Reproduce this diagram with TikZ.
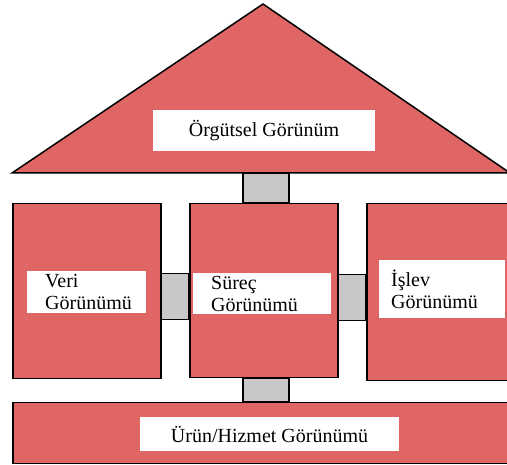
\documentclass[tikz,border=0pt]{standalone}
\usepackage{fontspec}
\setmainfont{Liberation Serif}
\usetikzlibrary{calc}
\definecolor{housered}{RGB}{224,102,102}
\definecolor{linkgray}{RGB}{200,200,200}
\begin{document}
\begin{tikzpicture}[x=1pt,y=-1pt,
  part/.style={draw=black,line width=1.5pt,fill=housered,rectangle,inner sep=0pt,anchor=north west},
  link/.style={draw=black,line width=1.5pt,fill=linkgray},
  tag/.style={fill=white,inner sep=0pt,font=\fontsize{20}{22}\selectfont},
  tagl/.style={fill=white,inner sep=0pt,font=\fontsize{20}{22}\selectfont,align=left,anchor=west}]
\useasboundingbox (0,0) rectangle (507,465);
% roof
\path[draw=black,line width=1.5pt,fill=housered,line join=miter]
  (12,173) -- (263,4) -- (510,173) -- cycle;
\coordinate (roofbase) at (265,173);
\node[tag,minimum width=222pt,minimum height=41pt] (orgut) at (264,130.5) {Örgütsel Görünüm};
% boxes
\node[part,minimum width=148pt,minimum height=175pt] (veri) at (12,203) {};
\node[part,minimum width=148pt,minimum height=174pt] (surec) at (189,203) {};
\node[part,minimum width=144pt,minimum height=177pt] (islev) at (366,203) {};
\node[part,minimum width=498pt,minimum height=61pt] (urun) at (12,402) {};
% connectors
\draw[link] ($(surec.north)+(-21,0)$) rectangle ($(roofbase -| surec.north)+(25,0)$);
\draw[link] ($(veri.east)+(0,-17.5)$) rectangle ($(surec.west)+(0,29)$);
\draw[link] ($(surec.east)+(0,-16)$) rectangle ($(islev.west)+(0,28.5)$);
\draw[link] ($(surec.south)+(-21,0)$) rectangle ($(urun.north -| surec.south)+(25,0)$);
\node[part,minimum width=148pt,minimum height=175pt] at (veri.north west) {};
\node[part,minimum width=148pt,minimum height=174pt] at (surec.north west) {};
\node[part,minimum width=144pt,minimum height=177pt] at (islev.north west) {};
\node[part,minimum width=498pt,minimum height=61pt] at (urun.north west) {};
% labels
\node[tagl,text width=119pt,minimum height=42pt] (veril) at (27,292) {\hspace*{18pt}Veri\\\hspace*{18pt}Görünümü};
\node[tagl,text width=138pt,minimum height=41pt] (surecl) at (193,293.5) {\hspace*{18pt}Süreç\\\hspace*{18pt}Görünümü};
\node[tagl,text width=126pt,minimum height=58pt] (islevl) at (379,289) {\hspace*{12pt}İşlev\\\hspace*{12pt}Görünümü\\[8pt]};
\node[tag,minimum width=259pt,minimum height=34pt] (urunl) at (269.5,434) {Ürün/Hizmet Görünümü};
\end{tikzpicture}
\end{document}
